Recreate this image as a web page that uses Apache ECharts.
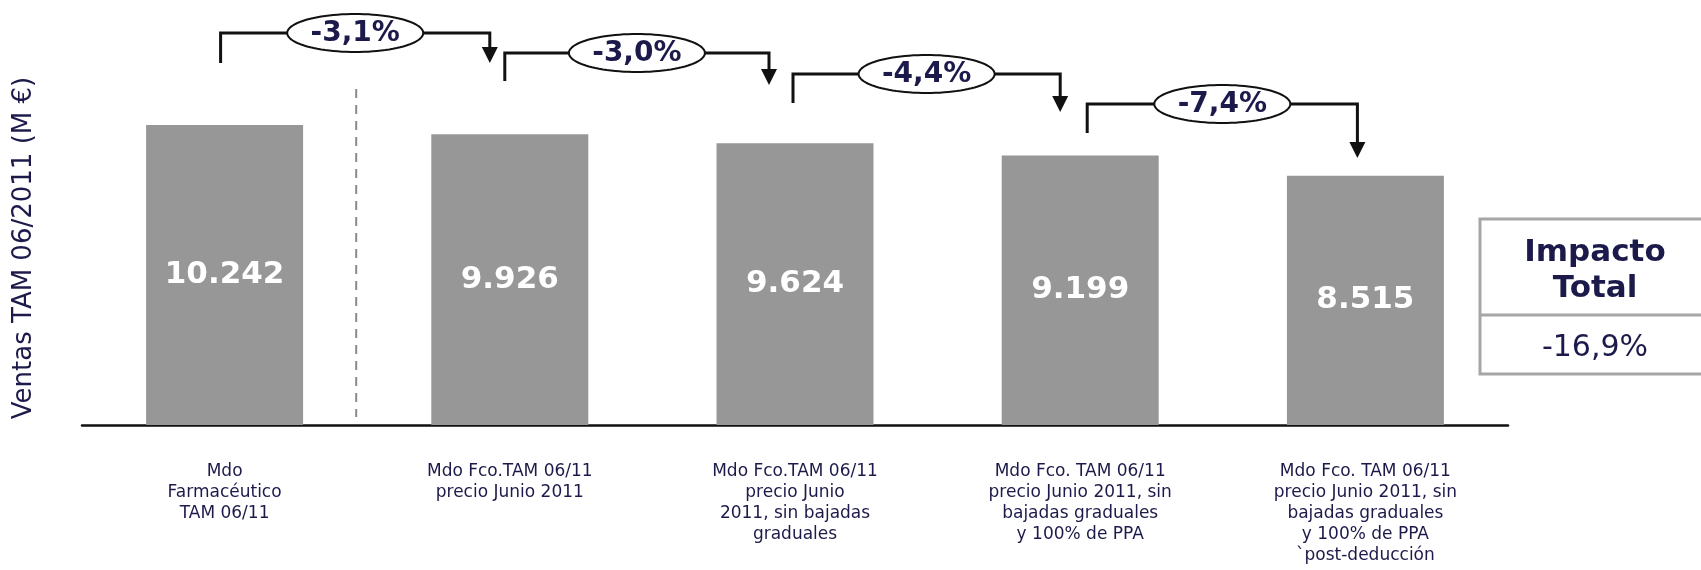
<!DOCTYPE html>
<html>
<head>
<meta charset="utf-8">
<script src="https://cdn.jsdelivr.net/npm/echarts@6/dist/echarts.min.js"></script>
<style>
  html, body { margin: 0; padding: 0; background: #ffffff; }
  #chart { width: 1701px; height: 570px; }
</style>
</head>
<body>
<div id="chart"></div>
<script>
// Escenarios de mercado (categorías del eje X)
const categories = [
  'Mdo\nFarmacéutico\nTAM 06/11',
  'Mdo Fco.TAM 06/11\nprecio Junio 2011',
  'Mdo Fco.TAM 06/11\nprecio Junio\n2011, sin bajadas\ngraduales',
  'Mdo Fco. TAM 06/11\nprecio Junio 2011, sin\nbajadas graduales\ny 100% de PPA',
  'Mdo Fco. TAM 06/11\nprecio Junio 2011, sin\nbajadas graduales\ny 100% de PPA\n`post-deducción'
];

// Ventas TAM 06/2011 en millones de euros
const ventas = [10242, 9926, 9624, 9199, 8515];

const yAxisTitle = 'Ventas TAM 06/2011 (M €)';
const tableTitle = 'Impacto\nTotal';

// Formato español: miles con punto, decimales con coma
const fmtMiles = v => String(v).replace(/\B(?=(\d{3})+(?!\d))/g, '.');
const fmtPct = r => (r * 100).toFixed(1).replace('.', ',') + '%';

// Variación entre escenarios consecutivos e impacto acumulado
const cambios = ventas.slice(1).map((v, i) => v / ventas[i] - 1);
const impactoTotal = ventas[ventas.length - 1] / ventas[0] - 1;

// Geometría de los conectores (px): altura del tramo horizontal, final de la
// pata izquierda, punta de la flecha y desplazamientos respecto al centro de barra
const bracketLayout = [
  { y: 33,  legEnd: 63,  tip: 63,  dl: -4, dr: -20 },
  { y: 53,  legEnd: 81,  tip: 85,  dl: -5, dr: -26 },
  { y: 74,  legEnd: 103, tip: 112, dl: -2, dr: -20 },
  { y: 104, legEnd: 133, tip: 158, dl: 7,  dr: -8 }
];

const NAVY = '#1c1a4a';
const FONT = '"DejaVu Sans", Verdana, sans-serif';

function ellipsePoints(cx, cy, rx, ry) {
  const pts = [];
  for (let k = 0; k < 96; k++) {
    const a = (k / 96) * Math.PI * 2;
    pts.push([cx + rx * Math.cos(a), cy + ry * Math.sin(a)]);
  }
  return pts;
}

function renderBracket(params, api) {
  const i = api.value(0);
  const L = bracketLayout[i];
  const x0 = api.coord([i, 0])[0] + L.dl;
  const x1 = api.coord([i + 1, 0])[0] + L.dr;
  const xm = (x0 + x1) / 2;
  return {
    type: 'group',
    children: [
      {
        type: 'polyline',
        shape: { points: [[x0, L.legEnd], [x0, L.y], [x1, L.y], [x1, L.tip - 12]] },
        style: { stroke: '#111111', lineWidth: 3, fill: null }
      },
      {
        type: 'polygon',
        shape: { points: [[x1 - 8, L.tip - 16], [x1 + 8, L.tip - 16], [x1, L.tip]] },
        style: { fill: '#111111' }
      },
      {
        type: 'polygon',
        shape: { points: ellipsePoints(xm, L.y, 68, 19) },
        style: { fill: '#ffffff', stroke: '#111111', lineWidth: 2 }
      },
      {
        type: 'text',
        style: {
          text: fmtPct(cambios[i]),
          x: xm, y: L.y + 1,
          textAlign: 'center', textVerticalAlign: 'middle',
          align: 'center', verticalAlign: 'middle',
          font: 'bold 28px ' + FONT,
          fill: NAVY
        }
      }
    ]
  };
}

function renderSeparator(params, api) {
  const xa = api.coord([0, 0])[0];
  const xb = api.coord([1, 0])[0];
  const x = (xa + xb) / 2 - 11;
  return {
    type: 'line',
    shape: { x1: x, y1: 89, x2: x, y2: 417 },
    style: { stroke: '#8a8a8a', lineWidth: 2, lineDash: [9, 7] }
  };
}

const chart = echarts.init(document.getElementById('chart'));

chart.setOption({
  animation: false,
  backgroundColor: '#ffffff',
  grid: { left: 82, right: 193, top: 15, bottom: 145, containLabel: false, outerBoundsMode: 'none' },
  xAxis: {
    type: 'category',
    data: categories,
    axisLine: { show: true, lineStyle: { color: '#111111', width: 2.5 } },
    axisTick: { show: false },
    axisLabel: {
      interval: 0,
      margin: 36,
      color: NAVY,
      fontFamily: FONT,
      fontSize: 17,
      lineHeight: 21,
      align: 'center'
    }
  },
  yAxis: { type: 'value', min: 0, max: 14000, show: false },
  series: [
    {
      type: 'bar',
      data: ventas,
      barWidth: 157,
      itemStyle: { color: '#979797' },
      label: {
        show: true,
        position: 'inside',
        color: '#ffffff',
        fontFamily: FONT,
        fontWeight: 'bold',
        fontSize: 31,
        formatter: p => fmtMiles(p.value)
      },
      z: 2
    },
    {
      type: 'custom',
      renderItem: renderSeparator,
      data: [[0, 0]],
      encode: { x: 0, y: 1 },
      silent: true,
      z: 1
    },
    {
      type: 'custom',
      renderItem: renderBracket,
      data: cambios.map((c, i) => [i, 0]),
      encode: { x: 0, y: 1 },
      silent: true,
      clip: false,
      z: 3
    }
  ],
  graphic: [
    {
      type: 'text',
      x: 24, y: 248,
      rotation: Math.PI / 2,
      style: {
        text: yAxisTitle,
        x: 0, y: 0,
        textAlign: 'center', textVerticalAlign: 'middle',
        align: 'center', verticalAlign: 'middle',
        font: '26px ' + FONT,
        fill: NAVY
      }
    },
    {
      type: 'rect',
      shape: { x: 1480, y: 219, width: 240, height: 155 },
      style: { fill: '#ffffff', stroke: '#a6a6a6', lineWidth: 3 }
    },
    {
      type: 'line',
      shape: { x1: 1480, y1: 315, x2: 1720, y2: 315 },
      style: { stroke: '#a6a6a6', lineWidth: 3 }
    },
    {
      type: 'text',
      x: 1595, y: 271,
      style: {
        text: tableTitle,
        x: 0, y: 0,
        textAlign: 'center', textVerticalAlign: 'middle',
        align: 'center', verticalAlign: 'middle',
        font: 'bold 31px ' + FONT,
        lineHeight: 36,
        fill: NAVY
      }
    },
    {
      type: 'text',
      x: 1595, y: 348,
      style: {
        text: fmtPct(impactoTotal),
        x: 0, y: 0,
        textAlign: 'center', textVerticalAlign: 'middle',
        align: 'center', verticalAlign: 'middle',
        font: '30px ' + FONT,
        fill: NAVY
      }
    }
  ]
});
</script>
</body>
</html>
